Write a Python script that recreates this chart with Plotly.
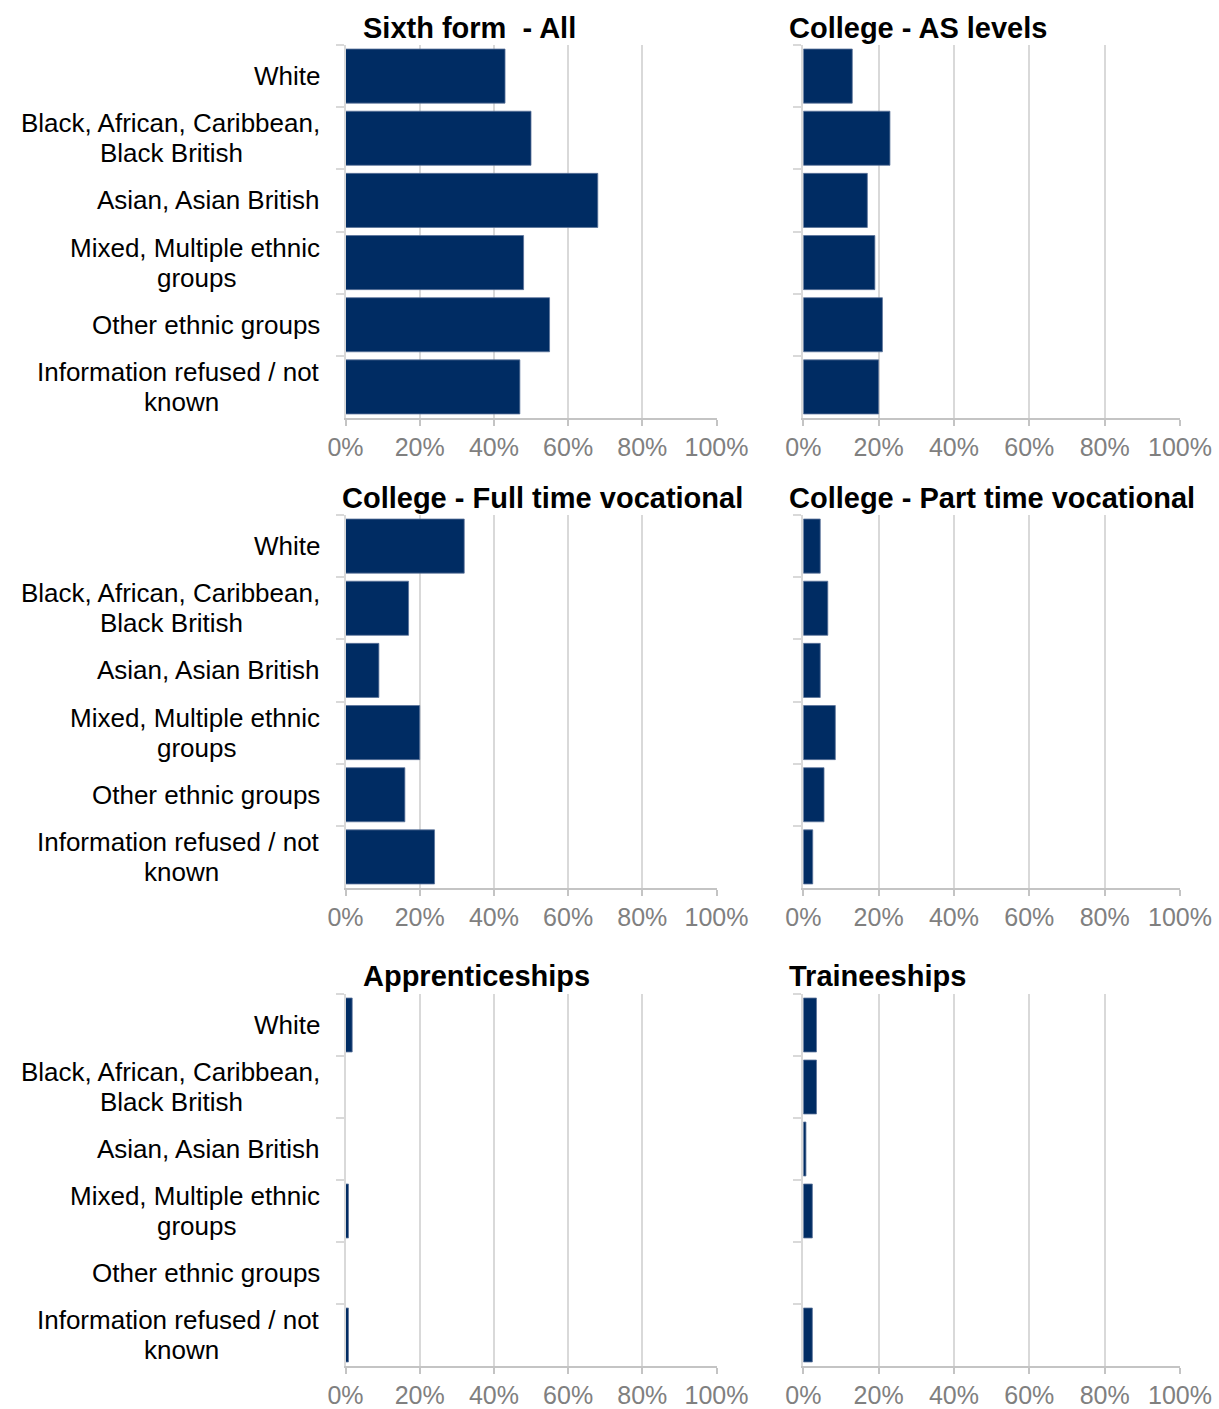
import plotly.graph_objects as go

# Ethnic groups (top to bottom) and their axis labels
categories = [
    "White",
    "Black, African, Caribbean, Black British",
    "Asian, Asian British",
    "Mixed, Multiple ethnic groups",
    "Other ethnic groups",
    "Information refused / not known",
]
category_labels = [
    ["White"],
    ["Black, African, Caribbean,", "Black British"],
    ["Asian, Asian British"],
    ["Mixed, Multiple ethnic", "groups"],
    ["Other ethnic groups"],
    ["Information refused / not", "known"],
]

# Share of each group in each destination (%)
sixth_form_all = [43, 50, 68, 48, 55, 47]
college_as_levels = [13, 23, 17, 19, 21, 20]
college_ft_vocational = [32, 17, 9, 20, 16, 24]
college_pt_vocational = [4.5, 6.5, 4.5, 8.5, 5.5, 2.5]
apprenticeships = [1.8, 0, 0, 0.8, 0, 0.8]
traineeships = [3.5, 3.5, 0.7, 2.4, 0, 2.4]

panel_titles = [
    "Sixth form  - All",
    "College - AS levels",
    "College - Full time vocational",
    "College - Part time vocational",
    "Apprenticeships",
    "Traineeships",
]
panel_values = [
    sixth_form_all, college_as_levels,
    college_ft_vocational, college_pt_vocational,
    apprenticeships, traineeships,
]
x_ticks = [0, 20, 40, 60, 80, 100]
x_tick_text = ["0%", "20%", "40%", "60%", "80%", "100%"]

W, H = 1219, 1409
FONT = "Liberation Sans, Arial, sans-serif"
BAR = "#002c63"
LABEL_SIZE = 26
LABEL_RIGHT = 322      # right edge of the category labels (px)
LINE_HALF_GAP = 15     # half the baseline distance of wrapped labels (px)

# Liberation Sans / Arial advance widths (1/1000 em) used to centre the
# second line of a wrapped label under the first one
ADV = {" ": 278, ",": 278, "/": 278, "A": 667, "B": 667, "C": 722,
       "I": 278, "M": 833, "a": 556, "b": 556, "c": 500, "d": 556,
       "e": 556, "f": 278, "h": 556, "i": 222, "k": 500, "l": 222,
       "m": 833, "n": 556, "o": 556, "p": 556, "r": 333, "s": 500,
       "t": 278, "u": 556, "x": 500}


def text_width(s, size):
    return sum(ADV.get(ch, 556) for ch in s) * size / 1000


# panel geometry in pixels
col_x = [(345.5, 716.5), (803.3, 1180)]
row_y = [(45, 418), (515, 888), (994, 1366)]
title_pos = [(361, 28), (787, 28), (340, 498), (787, 498), (361, 976), (787, 976)]

fig = go.Figure()
layout = dict(
    width=W, height=H,
    margin=dict(l=0, r=0, t=0, b=0, autoexpand=False),
    paper_bgcolor="white", plot_bgcolor="white",
    showlegend=False, bargap=0.13,
    font=dict(family=FONT),
)
annotations = []

for i, vals in enumerate(panel_values):
    r, c = divmod(i, 2)
    n = i + 1
    xa = "x" if n == 1 else f"x{n}"
    ya = "y" if n == 1 else f"y{n}"
    fig.add_trace(go.Bar(
        x=vals, y=categories, orientation="h",
        marker=dict(color=BAR,
                    line=dict(color="#5a7299",
                              width=[0.8 if v > 0 else 0 for v in vals])),
        xaxis=xa, yaxis=ya, hoverinfo="x+y",
    ))
    x0, x1 = col_x[c]
    y0, y1 = row_y[r]
    layout["xaxis" if n == 1 else f"xaxis{n}"] = dict(
        domain=[x0 / W, x1 / W], anchor=ya,
        range=[0, 100], tickmode="array",
        tickvals=x_ticks, ticktext=x_tick_text,
        showgrid=True, gridcolor="#d9d9d9", gridwidth=2,
        showline=True, linecolor="#c4c4c4", linewidth=2,
        ticks="outside", ticklen=6, tickcolor="#c4c4c4", tickwidth=2,
        tickfont=dict(size=25, color="#808080", family=FONT),
        zeroline=False, fixedrange=True, automargin=False,
    )
    layout["yaxis" if n == 1 else f"yaxis{n}"] = dict(
        domain=[1 - y1 / H, 1 - y0 / H], anchor=xa,
        type="category", categoryorder="array", categoryarray=categories,
        range=[len(categories) - 0.5, -0.5], autorange=False,
        showticklabels=False,
        showline=True, linecolor="#d9d9d9", linewidth=2,
        ticks="outside", tickson="boundaries", ticklen=8,
        tickcolor="#d9d9d9", tickwidth=2,
        showgrid=False, zeroline=False, fixedrange=True, automargin=False,
    )
    tx, ty = title_pos[i]
    annotations.append(dict(
        text=f"<b>{panel_titles[i]}</b>", xref="paper", yref="paper",
        x=tx / W, y=1 - ty / H, xanchor="left", yanchor="middle",
        showarrow=False, font=dict(size=29, color="#000000", family=FONT),
    ))
    if c == 0:
        for cat, lines in zip(categories, category_labels):
            font = dict(size=LABEL_SIZE, color="#000000", family=FONT)
            if len(lines) == 1:
                annotations.append(dict(
                    text=lines[0], xref="paper", yref=ya,
                    x=LABEL_RIGHT / W, y=cat, xanchor="right",
                    yanchor="middle", showarrow=False, font=font))
            else:
                first, second = lines
                mid = LABEL_RIGHT - text_width(first, LABEL_SIZE) / 2
                annotations.append(dict(
                    text=first, xref="paper", yref=ya,
                    x=LABEL_RIGHT / W, y=cat, xanchor="right",
                    yanchor="middle", yshift=LINE_HALF_GAP,
                    showarrow=False, font=font))
                annotations.append(dict(
                    text=second, xref="paper", yref=ya,
                    x=mid / W, y=cat, xanchor="center",
                    yanchor="middle", yshift=-LINE_HALF_GAP,
                    showarrow=False, font=font))

layout["annotations"] = annotations
fig.update_layout(**layout)
fig.write_html("out.html")
